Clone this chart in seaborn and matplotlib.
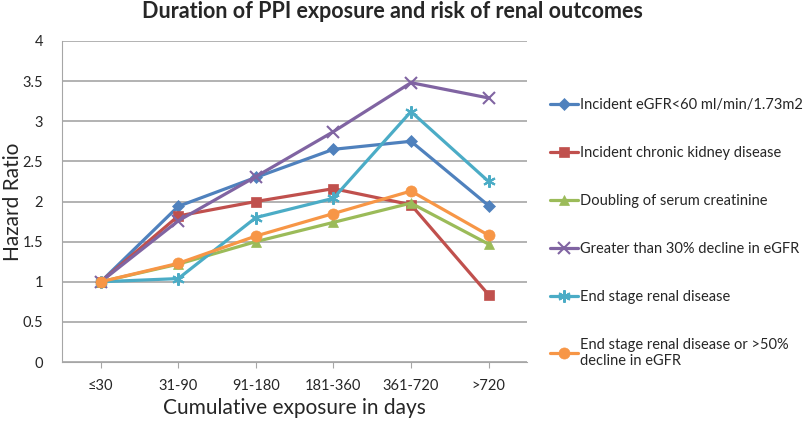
import pandas as pd
import matplotlib
matplotlib.use('Agg')
import matplotlib.pyplot as plt
import seaborn as sns

categories = ['≤30', '31-90', '91-180', '181-360', '361-720', '>720']

egfr60 = [1.0, 1.94, 2.30, 2.65, 2.75, 1.95]
ckd = [1.0, 1.82, 2.00, 2.16, 1.96, 0.84]
doubling = [1.0, 1.22, 1.50, 1.74, 1.98, 1.47]
decline30 = [1.0, 1.76, 2.31, 2.87, 3.48, 3.29]
esrd = [1.0, 1.04, 1.80, 2.04, 3.12, 2.25]
esrd50 = [1.0, 1.23, 1.57, 1.85, 2.13, 1.58]

series_names = [
    'Incident eGFR<60 ml/min/1.73m2',
    'Incident chronic kidney disease',
    'Doubling of serum creatinine',
    'Greater than 30% decline in eGFR',
    'End stage renal disease',
    'End stage renal disease or >50%\ndecline in eGFR',
]
series_values = [egfr60, ckd, doubling, decline30, esrd, esrd50]
colors = ['#4F81BD', '#C0504D', '#9BBB59', '#8064A2', '#4BACC6', '#F79646']
markers = ['D', 's', '^', 'x', (6, 2, 0), 'o']
msizes = [6, 7, 7, 8, 9, 8]


def build_frame():
    rows = []
    for name, vals in zip(series_names, series_values):
        for i, v in enumerate(vals):
            rows.append({'pos': i, 'outcome': name, 'hr': v})
    return pd.DataFrame(rows)


df = build_frame()

sns.set_style('white')
plt.rcParams['font.family'] = ['Lato', 'DejaVu Sans']

fig = plt.figure(figsize=(8.05, 4.22), dpi=100)
ax = fig.add_axes([0.077, 0.142, 0.578, 0.761])

for name, c, m, ms in zip(series_names, colors, markers, msizes):
    sub = df[df['outcome'] == name]
    sns.lineplot(data=sub, x='pos', y='hr', ax=ax, color=c, marker=m,
                 markersize=ms, linewidth=2.3, markeredgecolor=c,
                 markeredgewidth=1.5 if m in ('x', (6, 2, 0)) else 0.5,
                 label=name)

ax.set_xlim(-0.5, 5.5)
ax.set_ylim(0, 4)
ax.set_yticks([0, 0.5, 1, 1.5, 2, 2.5, 3, 3.5, 4])
ax.set_yticklabels(['0', '0.5', '1', '1.5', '2', '2.5', '3', '3.5', '4'])
ax.set_xticks(range(len(categories)))
ax.set_xticklabels(categories)
ax.yaxis.grid(True, color='#A6A6A6', linewidth=1.2)
ax.xaxis.grid(False)
for side in ['top', 'right']:
    ax.spines[side].set_visible(False)
for side in ['left', 'bottom']:
    ax.spines[side].set_color('#A6A6A6')
ax.tick_params(axis='x', bottom=True, length=4, color='#A6A6A6', labelsize=10.5, pad=8)
ax.tick_params(axis='y', left=False, labelsize=10.5, pad=10)
ax.set_xlabel('Cumulative exposure in days', fontsize=15, labelpad=4)
ax.set_ylabel('Hazard Ratio', fontsize=15)
ax.yaxis.set_label_coords(-0.084, 0.5)

handles, labels = ax.get_legend_handles_labels()
ax.get_legend().remove()
fig.legend(handles, labels, loc='upper left', bbox_to_anchor=(0.676, 0.782),
           frameon=False, fontsize=10.5, handlelength=1.9, handletextpad=0.15,
           labelspacing=2.33, borderaxespad=0)

fig.suptitle('Duration of PPI exposure and risk of renal outcomes',
             fontsize=15.5, fontweight='bold', x=0.487, y=0.998)

fig.savefig('out.png', dpi=100)
